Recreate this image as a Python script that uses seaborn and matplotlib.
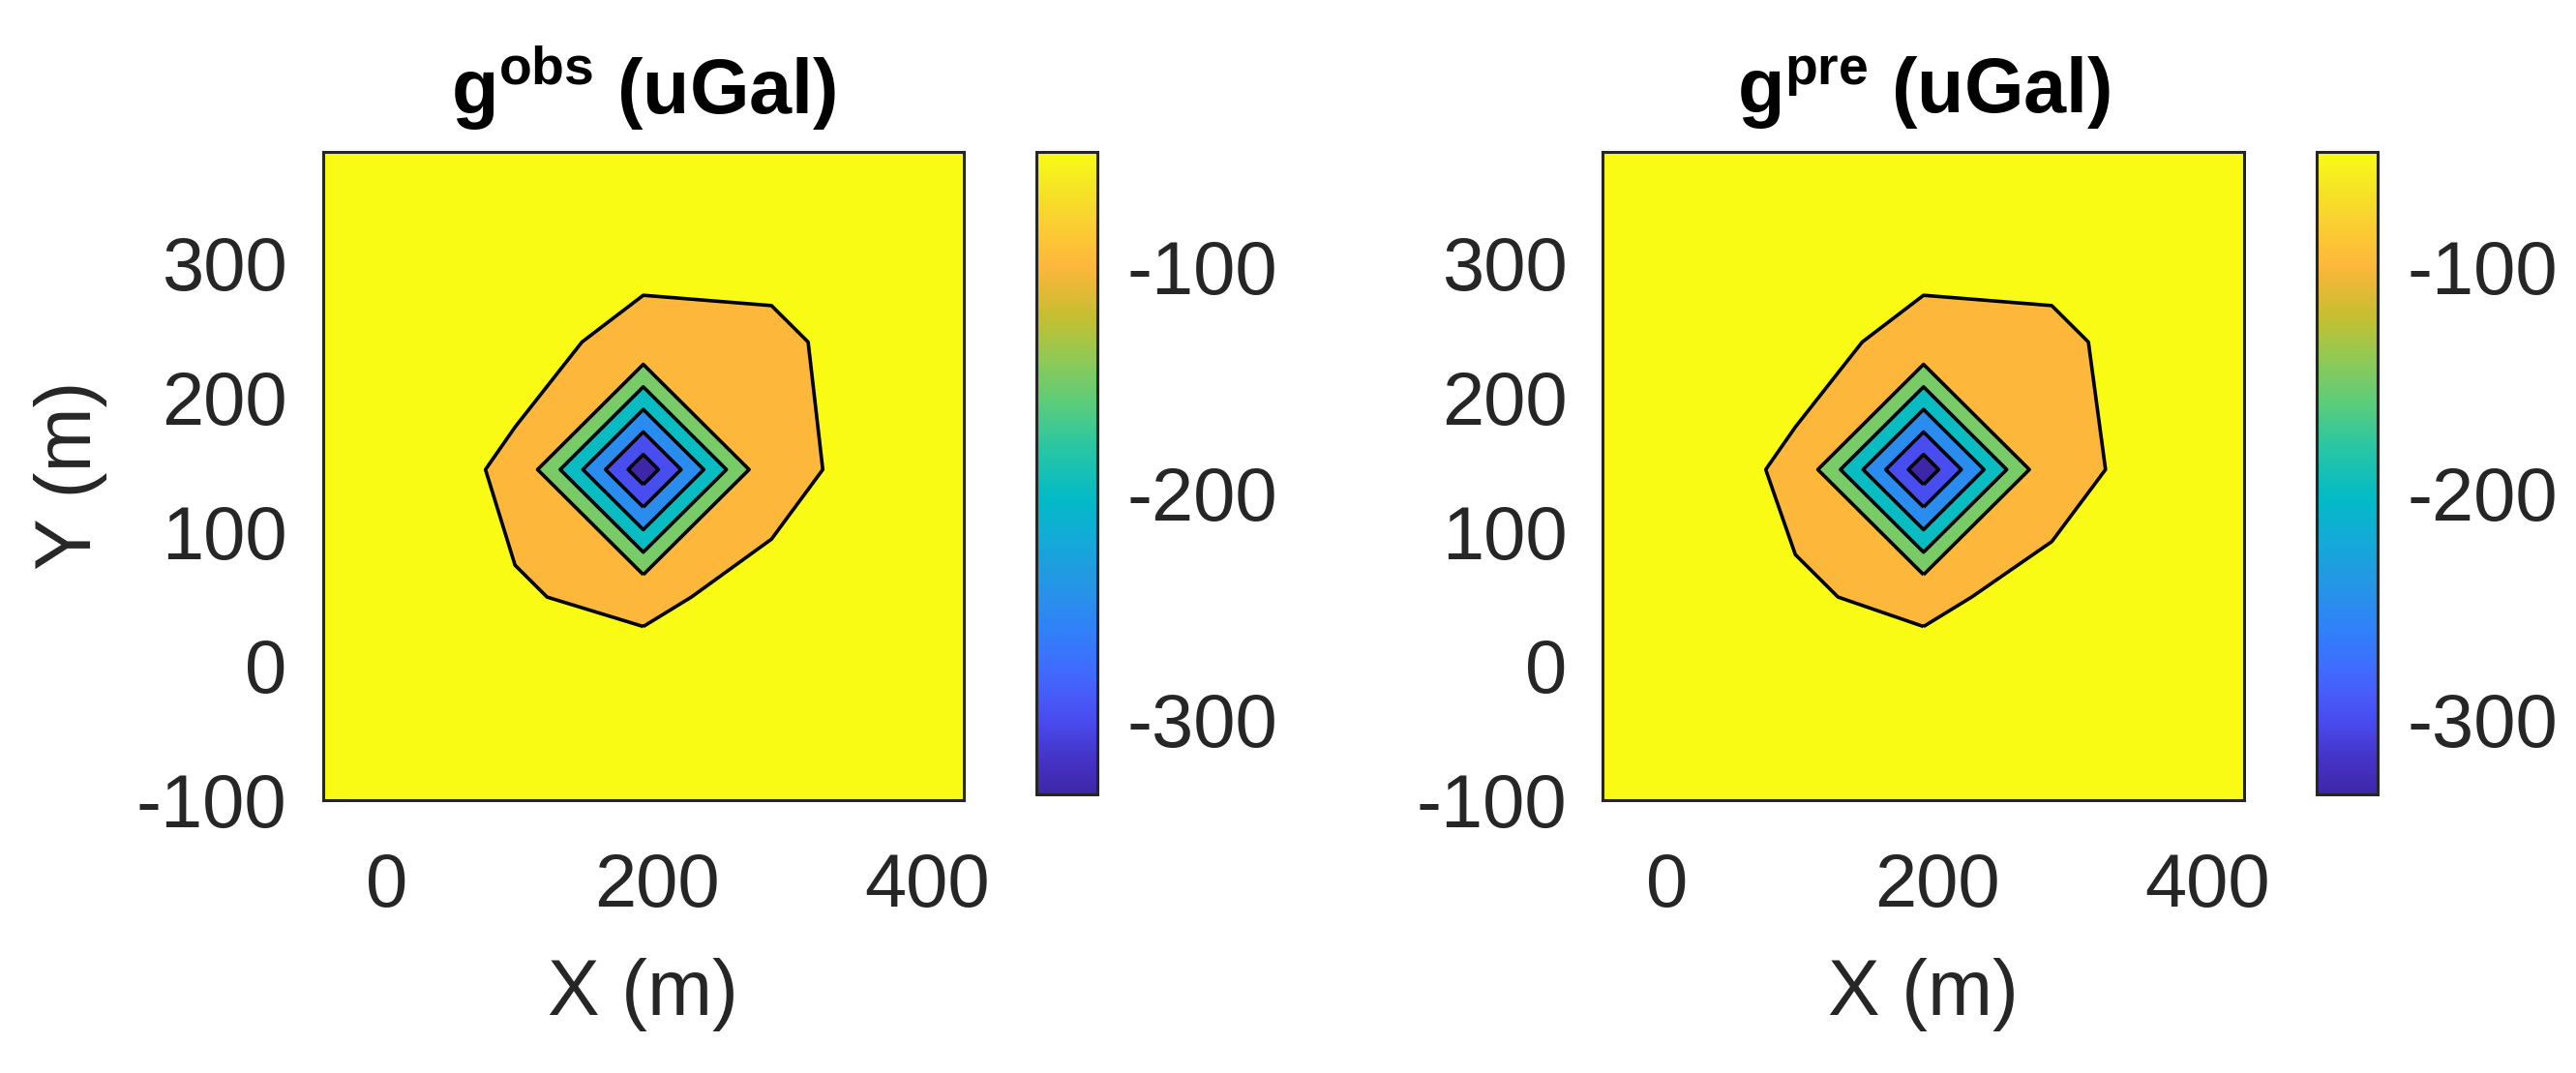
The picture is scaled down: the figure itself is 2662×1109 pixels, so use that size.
import numpy as np
import matplotlib
matplotlib.use("Agg")
import matplotlib.pyplot as plt
import seaborn as sns
from matplotlib.colors import LinearSegmentedColormap, Normalize
import matplotlib.cm as cm

# ---------------- data ----------------
x_nodes = [-95, 0, 95, 190, 285, 380, 475]          # m
y_nodes = [-139, -44, 51, 146, 241, 336, 431]       # m

# rows follow y_nodes (bottom -> top), columns follow x_nodes
g_obs = [
    [-48.9, -49.0, -49.1, -49.1,  -49.1, -49.0, -48.9],
    [-49.0, -49.1, -49.2, -49.0,  -49.2, -49.1, -49.0],
    [-49.0, -49.2, -49.9, -50.3,  -49.5, -49.2, -49.0],
    [-49.0, -49.0, -50.3, -333.4, -50.6, -49.1, -49.0],
    [-49.0, -49.2, -49.4, -50.55, -50.4, -49.0, -49.0],
    [-48.9, -49.0, -49.1, -49.05, -49.0, -49.0, -48.9],
    [-48.9, -48.9, -49.0, -49.0,  -49.0, -48.9, -48.9],
]
g_pre = [
    [-48.9, -49.0, -49.1, -49.1,  -49.1, -49.0, -48.9],
    [-49.0, -49.1, -49.2, -49.0,  -49.2, -49.1, -49.0],
    [-49.0, -49.2, -49.85, -50.3, -49.5, -49.2, -49.0],
    [-49.0, -49.0, -50.3, -333.4, -50.65, -49.1, -49.0],
    [-49.0, -49.2, -49.4, -50.55, -50.4, -49.0, -49.0],
    [-48.9, -49.0, -49.1, -49.05, -49.0, -49.0, -48.9],
    [-48.9, -48.9, -49.0, -49.0,  -49.0, -48.9, -48.9],
]
contour_levels = [-300, -250, -200, -150, -100, -50]
x_ticks = [0, 200, 400]
y_ticks = [-100, 0, 100, 200, 300]
cbar_ticks = [-300, -200, -100]
titles = [r"$\mathbf{g}^{\mathbf{obs}}$ (uGal)", r"$\mathbf{g}^{\mathbf{pre}}$ (uGal)"]

# ---------------- style ----------------
sns.set_theme(style="white")
plt.rcParams["font.family"] = ["Liberation Sans", "DejaVu Sans"]
plt.rcParams["mathtext.fontset"] = "custom"
plt.rcParams["mathtext.rm"] = "Liberation Sans"
plt.rcParams["mathtext.bf"] = "Liberation Sans:bold"
plt.rcParams["mathtext.it"] = "Liberation Sans:italic"
plt.rcParams["axes.unicode_minus"] = False

# parula-like colormap
parula_anchors = [
    (0.000, (0.2422, 0.1504, 0.6603)),
    (0.055, (0.2700, 0.2040, 0.7800)),
    (0.110, (0.2830, 0.2900, 0.9350)),
    (0.160, (0.2750, 0.3700, 0.9800)),
    (0.210, (0.2350, 0.4450, 0.9950)),
    (0.260, (0.1850, 0.5100, 0.9700)),
    (0.320, (0.1500, 0.5800, 0.9050)),
    (0.390, (0.0800, 0.6600, 0.8500)),
    (0.460, (0.0100, 0.7300, 0.7800)),
    (0.540, (0.1600, 0.7750, 0.6400)),
    (0.610, (0.3600, 0.8000, 0.4800)),
    (0.680, (0.5700, 0.7900, 0.3300)),
    (0.740, (0.7600, 0.7500, 0.1900)),
    (0.785, (0.8900, 0.7250, 0.2100)),
    (0.825, (0.9950, 0.7200, 0.2350)),
    (0.880, (0.9850, 0.8000, 0.2000)),
    (0.940, (0.9600, 0.8900, 0.1450)),
    (1.000, (0.9769, 0.9839, 0.0805)),
]
parula = LinearSegmentedColormap.from_list("parula_like", parula_anchors, N=256)

W, H = 2662, 1109
fig = plt.figure(figsize=(W / 100, H / 100), dpi=100)
fig.patch.set_facecolor("white")

dark = "#262626"
AX_BOTTOM, AX_TOP = 826.6, 156.5
AX_W = 662.5
AX_H = AX_BOTTOM - AX_TOP
panels = [
    (g_obs, 333.5, 1071.0, titles[0]),
    (g_pre, 1656.5, 2394.0, titles[1]),
]

X, Y = np.meshgrid(np.array(x_nodes, float), np.array(y_nodes, float))

for i, (data, ax_left, cb_left, title) in enumerate(panels):
    Z = np.array(data, float)
    zmin, zmax = Z.min(), Z.max()
    norm = Normalize(vmin=zmin, vmax=zmax)
    ax = fig.add_axes([ax_left / W, 1 - AX_BOTTOM / H, AX_W / W, AX_H / H])
    fill_levels = [zmin - 0.01] + contour_levels + [zmax + 0.01]
    band_colors = [parula(norm(v)) for v in [zmin] + contour_levels]
    ax.contourf(X, Y, Z, levels=fill_levels, colors=band_colors, antialiased=True)
    ax.contour(X, Y, Z, levels=contour_levels, colors="black",
               linewidths=2.6, linestyles="solid")
    ax.set_xlim(-47.5, 427.5)
    ax.set_ylim(-97, 383)
    ax.set_xticks(x_ticks)
    ax.set_yticks(y_ticks)
    ax.tick_params(axis="x", direction="in", length=7, width=2.2, colors=dark,
                   labelsize=56, pad=38.5, top=False)
    ax.tick_params(axis="y", direction="in", length=0, colors=dark,
                   labelsize=56, pad=26.6)
    for sp in ax.spines.values():
        sp.set_color(dark)
        sp.set_linewidth(2.2)
        sp.set_visible(True)
    ax.set_xlabel("X (m)", fontsize=58, color=dark)
    ax.xaxis.set_label_coords(0.5, (AX_BOTTOM - 990.0) / AX_H)
    if i == 0:
        ax.set_ylabel("Y (m)", fontsize=58, color=dark)
        ax.yaxis.set_label_coords((111.0 - ax_left) / AX_W, 0.5)
    ax.set_title(title, fontsize=57, fontweight="bold", color="black", pad=28.4)

    cax = fig.add_axes([cb_left / W, 1 - 821.0 / H, 63.0 / W, 664.4 / H])
    sm = cm.ScalarMappable(norm=norm, cmap=parula)
    cb = fig.colorbar(sm, cax=cax, ticks=cbar_ticks)
    cb.outline.set_edgecolor(dark)
    cb.outline.set_linewidth(2.2)
    cax.tick_params(length=0, labelsize=56, colors=dark, pad=22)

fig.savefig("out.png", dpi=100, facecolor="white")
